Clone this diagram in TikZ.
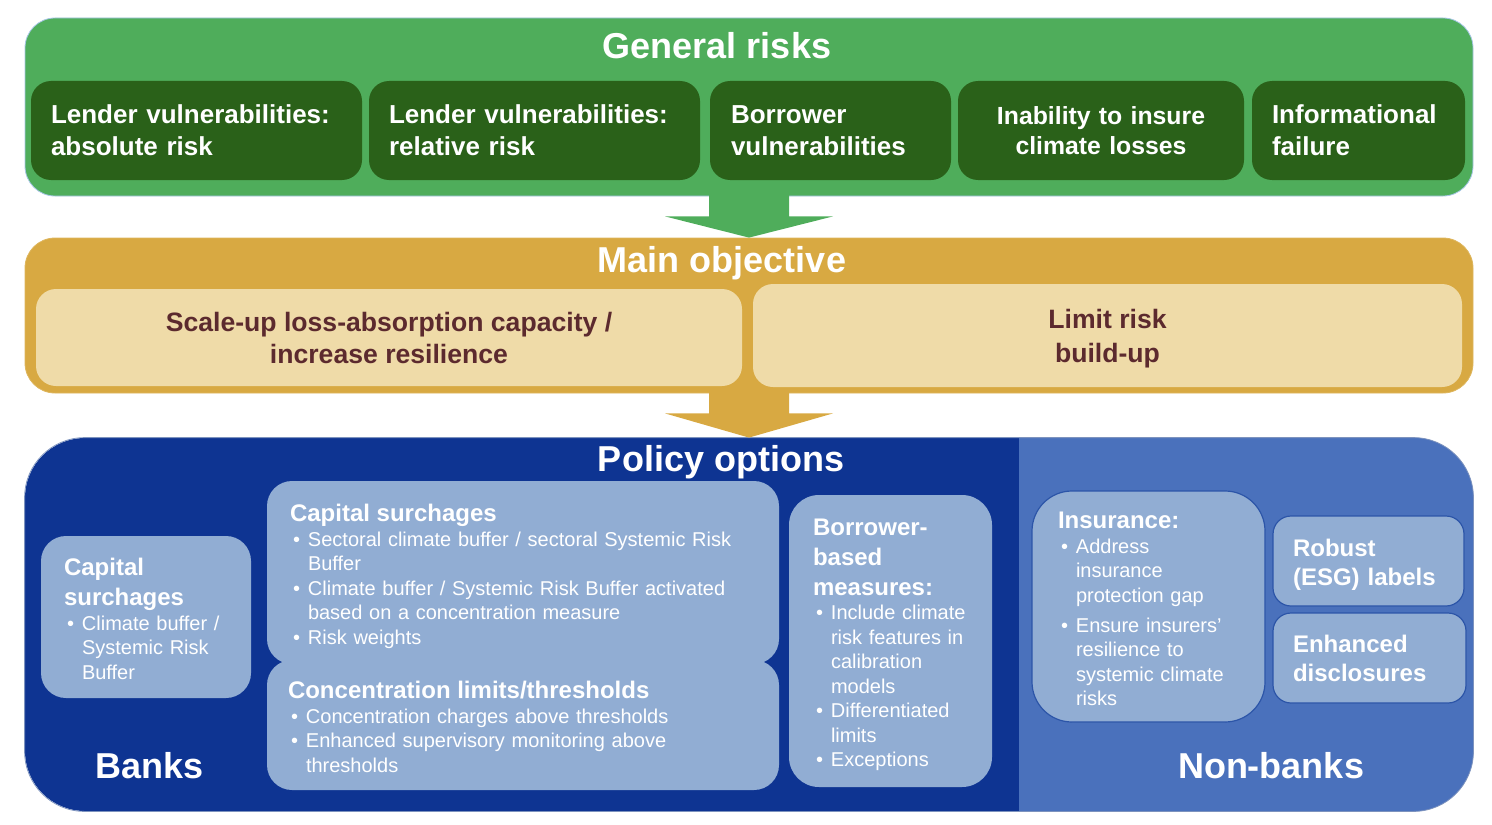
\documentclass[tikz,border=0pt]{standalone}
\usepackage{fontspec}
\setmainfont{Liberation Sans}
\usetikzlibrary{calc}

\definecolor{riskgreen}{HTML}{4FAD5B}
\definecolor{riskdark}{HTML}{2A6119}
\definecolor{riskedge}{HTML}{A7C6E6}
\definecolor{objgold}{HTML}{D8A942}
\definecolor{objlight}{HTML}{EFDBA8}
\definecolor{objtext}{HTML}{5C2A2E}
\definecolor{bankblue}{HTML}{0E3492}
\definecolor{nonbankblue}{HTML}{4A71BC}
\definecolor{optblue}{HTML}{91ADD3}
\definecolor{optedge}{HTML}{2C55A8}
\definecolor{poledge}{HTML}{7D93BE}

\newcommand{\itembul}[1]{\par\lineskip=0pt\noindent\hbox to 9pt{\hspace{1.5pt}\textbullet\hfil}\begin{tabular}[t]{@{}l@{}}#1\end{tabular}\par}
\newcommand{\opthead}{\fontsize{12}{15}\selectfont\bfseries}
\newcommand{\textdrop}[1]{\par\vspace{-#1}}

\begin{document}
\begin{tikzpicture}[x=0.5pt, y=-0.5pt,
    band/.style={rectangle, rounded corners=15pt, minimum width=724pt, inner sep=0pt},
    title/.style={text=white, font=\fontsize{18}{20}\selectfont\bfseries, inner sep=0pt, text height=12.9pt, text depth=0pt},
    riskbox/.style={rectangle, rounded corners=10pt, fill=riskdark, text=white, font=\fontsize{13}{16}\selectfont\bfseries, align=left, inner xsep=10pt, inner ysep=0pt, minimum height=49.5pt},
    objbox/.style={rectangle, rounded corners=10pt, fill=objlight, text=objtext, font=\fontsize{13.3}{16}\selectfont\bfseries, align=center, inner sep=0pt, text height=25.5pt, text depth=0pt},
    optbox/.style={rectangle, rounded corners=12.5pt, fill=optblue, text=white, font=\fontsize{10}{12.25}\selectfont, align=left, inner ysep=0pt},
    nbbox/.style={optbox, draw=optedge, line width=0.6pt}]
    \useasboundingbox (0,0) rectangle (1492,824);

    % bands
    \node[band, fill=riskgreen, draw=riskedge, minimum height=89pt] (risks) at (749,107) {};
    \node[band, fill=objgold, draw=objgold!85!white, minimum height=77.5pt] (objective) at (749,315.5) {};
    \node[band, rounded corners=30pt, fill=bankblue, minimum height=186.5pt] (policy) at (749,624.5) {};
    \begin{scope}
        \clip (1019,430) rectangle (1480,820);
        \fill[nonbankblue, rounded corners=30pt] (policy.north west) rectangle (policy.south east);
    \end{scope}
    \draw[poledge, rounded corners=30pt] (policy.north west) rectangle (policy.south east);

    % arrows
    \fill[riskgreen] ($(risks.south)+(-40,-4)$) -- ($(risks.south)+(40,-4)$) -- ($(risks.south)+(40,20)$)
        -- ($(risks.south)+(84,20)$) -- (objective.north) -- ($(risks.south)+(-84,20)$) -- ($(risks.south)+(-40,20)$) -- cycle;
    \fill[objgold] ($(objective.south)+(-40,-4)$) -- ($(objective.south)+(40,-4)$) -- ($(objective.south)+(40,20)$)
        -- ($(objective.south)+(84,20)$) -- (policy.north) -- ($(objective.south)+(-84,20)$) -- ($(objective.south)+(-40,20)$) -- cycle;

    % titles
    \node[title] (risktitle) at (717,46) {General risks};
    \node[title] (objtitle) at (722,260) {Main objective};
    \node[title] (poltitle) at (721,459) {Policy options};
    \node[title] (banks) at (150,766) {Banks};
    \node[title] (nonbanks) at (1271,766) {Non-banks};

    % general risks
    \node[riskbox, text width=145.5pt] (lendabs) at (196.5,130.5) {Lender vulnerabilities:\\absolute risk};
    \node[riskbox, text width=145.5pt] (lendrel) at (534.5,130.5) {Lender vulnerabilities:\\relative risk};
    \node[riskbox, text width=99.5pt, inner xsep=10.5pt] (borrowvul) at (830.5,130.5) {Borrower\\vulnerabilities};
    \node[riskbox, text width=123pt, align=center, font=\fontsize{12.4}{15}\selectfont\bfseries] (insure) at (1101,130.5) {Inability to insure\\climate losses};
    \node[riskbox, text width=86.5pt] (inform) at (1358.5,130.5) {Informational\\failure};

    % main objective
    \node[objbox, minimum width=353pt, minimum height=48.5pt] (scaleup) at (389,337.5) {Scale-up loss-absorption capacity /\\increase resilience};
    \node[objbox, minimum width=354.5pt, minimum height=51.5pt, font=\fontsize{13.3}{17}\selectfont\bfseries, text height=26.5pt] (limitrisk) at (1107.5,335.5) {Limit risk\\build-up};

    % banks
    \node[optbox, text width=82pt, inner xsep=11.5pt, minimum height=81pt] (capsmall) at (146,617)
        {{\opthead Capital\\surchages\par}\itembul{Climate buffer /\\Systemic Risk\\Buffer}\textdrop{5.5pt}};
    \node[optbox, text width=233pt, inner xsep=11.5pt, minimum height=91.5pt] (capsur) at (523,572.5)
        {{\opthead Capital surchages\par}\itembul{Sectoral climate buffer / sectoral Systemic Risk\\Buffer}
         \itembul{Climate buffer / Systemic Risk Buffer activated\\based on a concentration measure}
         \itembul{Risk weights}\textdrop{5.5pt}};
    \node[optbox, text width=235pt, inner xsep=10.5pt, minimum height=65pt] (conclim) at (523,725)
        {{\opthead Concentration limits/thresholds\par}\itembul{Concentration charges above thresholds}
         \itembul{Enhanced supervisory monitoring above\\thresholds}\textdrop{5.5pt}};
    \node[optbox, rounded corners=15pt, text width=77.5pt, inner xsep=12pt, minimum height=146pt] (borrowbbm) at (890.5,641)
        {{\opthead Borrower-\\based\\measures:\par}\itembul{Include climate\\risk features in\\calibration\\models}
         \itembul{Differentiated\\limits}\itembul{Exceptions}\textdrop{5.5pt}};

    % non-banks
    \node[nbbox, rounded corners=20pt, text width=90.5pt, inner xsep=13pt, minimum height=115.5pt] (insurance) at (1148.5,606.5)
        {{\opthead Insurance:\par}\itembul{Address\\insurance\\protection gap}\vspace{2.75pt}
         \itembul{Ensure insurers’\\resilience to\\systemic climate\\risks}\textdrop{6pt}};
    \node[nbbox, rounded corners=9pt, text width=75.5pt, inner xsep=10pt, minimum height=45pt, font=\fontsize{12}{14.5}\selectfont\bfseries] (esglabels) at (1368.5,561) {Robust\\(ESG) labels\textdrop{4pt}};
    \node[nbbox, rounded corners=9pt, text width=76.5pt, inner xsep=10pt, minimum height=45pt, font=\fontsize{12}{14.5}\selectfont\bfseries] (disclose) at (1369.5,658) {Enhanced\\disclosures};

\end{tikzpicture}
\end{document}
